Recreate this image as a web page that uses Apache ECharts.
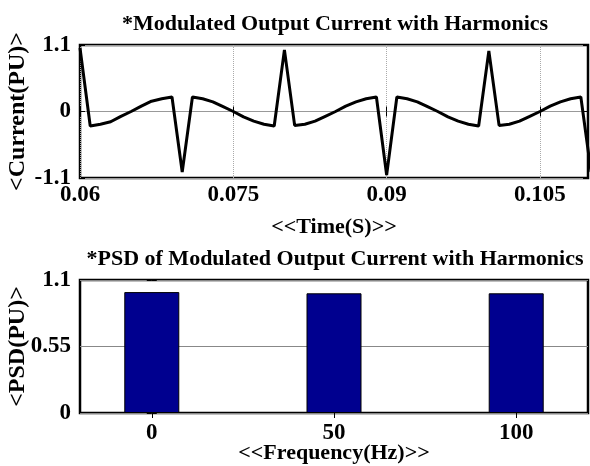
<!DOCTYPE html>
<html>
<head>
<meta charset="utf-8">
<script src="https://cdn.jsdelivr.net/npm/echarts@6/dist/echarts.min.js"></script>
<style>
html, body { margin: 0; padding: 0; background: #fff; }
#chartmain { width: 590px; height: 466px; }
</style>
</head>
<body>
<div id="chartmain"></div>
<script>
// top panel: modulated current, sampled every 1 ms
var timeS = [0.060, 0.061, 0.062, 0.063, 0.064, 0.065, 0.066, 0.067, 0.068, 0.069,
	0.070, 0.071, 0.072, 0.073, 0.074, 0.075, 0.076, 0.077, 0.078, 0.079,
	0.080, 0.081, 0.082, 0.083, 0.084, 0.085, 0.086, 0.087, 0.088, 0.089,
	0.090, 0.091, 0.092, 0.093, 0.094, 0.095, 0.096, 0.097, 0.098, 0.099,
	0.100, 0.101, 0.102, 0.103, 0.104, 0.105, 0.106, 0.107, 0.108, 0.109, 0.110];
var currentPU = [1.05, -0.24, -0.21, -0.17, -0.08, 0.0, 0.09, 0.17, 0.21, 0.24,
	-1.0, 0.24, 0.21, 0.16, 0.08, 0.0, -0.09, -0.16, -0.21, -0.24,
	1.02, -0.23, -0.21, -0.16, -0.08, 0.0, 0.09, 0.16, 0.21, 0.24,
	-1.05, 0.24, 0.21, 0.16, 0.08, 0.0, -0.09, -0.16, -0.21, -0.24,
	1.0, -0.23, -0.21, -0.16, -0.08, 0.0, 0.09, 0.16, 0.21, 0.24, -1.0];
var timeTicks = [0.06, 0.075, 0.09, 0.105];

// bottom panel: PSD
var freqHz = [0, 50, 100];
var psdPU = [1.0, 0.99, 0.99];

var font = 'Liberation Serif';
var lbl = { color: '#000', fontFamily: font, fontWeight: 'bold', fontSize: 23 };
var xName = { color: '#000', fontFamily: font, fontWeight: 'bold', fontSize: 22 };
var yName = { color: '#000', fontFamily: font, fontWeight: 'bold', fontSize: 24 };
var titleTxt = { color: '#000', fontFamily: font, fontWeight: 'bold', fontSize: 22 };

var option = {
	animation: false,
	backgroundColor: '#fff',
	title : [ {
		text : '*Modulated Output Current with Harmonics',
		left : 330, textAlign : 'center', top : 8,
		textStyle : titleTxt
	}, {
		text : '*PSD of Modulated Output Current with Harmonics',
		left : 330, textAlign : 'center', top : 243,
		textStyle : titleTxt
	} ],
	grid : [
		{ left: 80, top: 45, width: 508, height: 133, show: true, borderColor: '#000', borderWidth: 2.5, outerBoundsMode: 'none' },
		{ left: 80, top: 280, width: 508, height: 133, show: true, borderColor: '#000', borderWidth: 2.5, outerBoundsMode: 'none' }
	],
	xAxis : [ {
		gridIndex: 0, type : 'value', min: 0.06, max: 0.1097,
		name: '<<Time(S)>>', nameLocation: 'middle', nameGap: 38, nameMoveOverlap: false, nameTextStyle: xName,
		axisLine: { show: false },
		axisTick: { inside: true, length: 5, customValues: timeTicks, lineStyle: { color: '#000' } },
		axisLabel: Object.assign({ margin: 6, customValues: timeTicks }, lbl),
		splitLine: { show: true, lineStyle: { color: '#aaa', width: 1, type: 'dotted' } }
	}, {
		gridIndex: 0, type : 'value', min: 0.06, max: 0.1097, position: 'top',
		axisLine: { show: false },
		axisTick: { inside: true, length: 5, customValues: timeTicks, lineStyle: { color: '#000' } },
		axisLabel: { show: false, customValues: timeTicks }, splitLine: { show: false }
	}, {
		gridIndex: 1, type : 'value', min: -19.7, max: 119.7,
		name: '<<Frequency(Hz)>>', nameLocation: 'middle', nameGap: 29, nameMoveOverlap: false, nameTextStyle: xName,
		axisLine: { show: false },
		axisTick: { inside: true, length: 5, customValues: freqHz, lineStyle: { color: '#000' } },
		axisLabel: Object.assign({ margin: 9, customValues: freqHz }, lbl),
		splitLine: { show: false }
	}, {
		gridIndex: 1, type : 'value', min: -19.7, max: 119.7, position: 'top',
		axisLine: { show: false },
		axisTick: { inside: true, length: 5, customValues: freqHz, lineStyle: { color: '#000' } },
		axisLabel: { show: false, customValues: freqHz }, splitLine: { show: false }
	} ],
	yAxis : [ {
		gridIndex: 0, type : 'value', min: -1.1, max: 1.1, interval: 1.1,
		name: '<Current(PU)>', nameLocation: 'middle', nameGap: 50, nameMoveOverlap: false, nameTextStyle: yName,
		axisLine: { show: false },
		axisTick: { inside: true, length: 5, lineStyle: { color: '#000' } },
		axisLabel: Object.assign({ margin: 9 }, lbl),
		splitLine: { show: true, lineStyle: { color: '#999', width: 1 } }
	}, {
		gridIndex: 0, type : 'value', min: -1.1, max: 1.1, interval: 1.1, position: 'right',
		axisLine: { show: false },
		axisTick: { inside: true, length: 5, lineStyle: { color: '#000' } },
		axisLabel: { show: false }, splitLine: { show: false }
	}, {
		gridIndex: 1, type : 'value', min: 0, max: 1.1, interval: 0.55,
		name: '<PSD(PU)>', nameLocation: 'middle', nameGap: 50, nameMoveOverlap: false, nameTextStyle: yName,
		axisLine: { show: false },
		axisTick: { inside: true, length: 5, lineStyle: { color: '#000' } },
		axisLabel: Object.assign({ margin: 9 }, lbl),
		splitLine: { show: true, lineStyle: { color: '#888', width: 1 } }
	}, {
		gridIndex: 1, type : 'value', min: 0, max: 1.1, interval: 0.55, position: 'right',
		axisLine: { show: false },
		axisTick: { inside: true, length: 5, lineStyle: { color: '#000' } },
		axisLabel: { show: false }, splitLine: { show: false }
	} ],
	series : [ {
		type : 'line', xAxisIndex: 0, yAxisIndex: 0,
		data : timeS.map(function (t, i) { return [t, currentPU[i]]; }),
		showSymbol: false, clip: true,
		lineStyle: { color: '#000', width: 3 }
	}, {
		type : 'bar', xAxisIndex: 2, yAxisIndex: 2,
		data : freqHz.map(function (f, i) { return [f, psdPU[i]]; }),
		barWidth: 55,
		itemStyle: { color: '#00008f', borderColor: '#000', borderWidth: 1 }
	} ]
};
var myChart = echarts.init(document.getElementById('chartmain'));
myChart.setOption(option);
</script>
</body>
</html>
